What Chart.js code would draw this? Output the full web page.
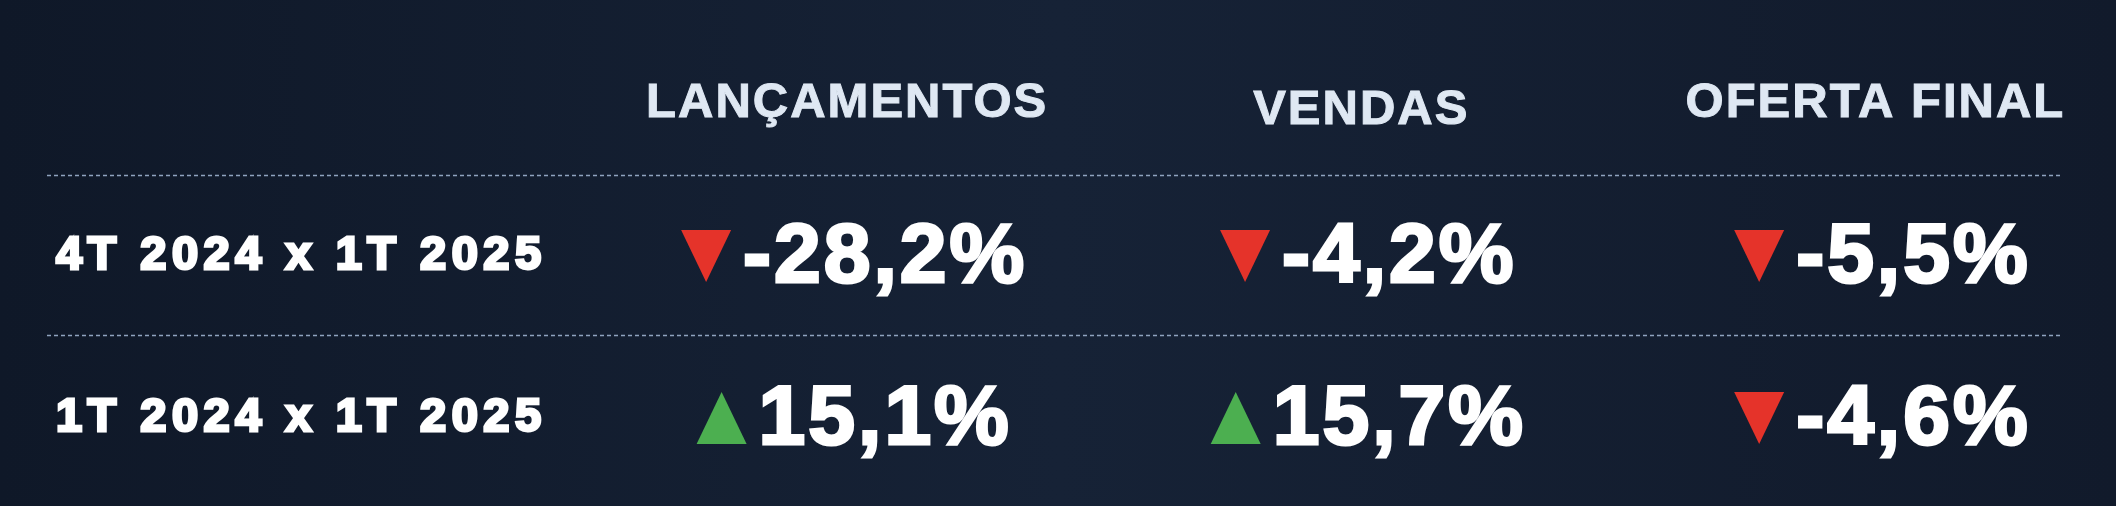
<!DOCTYPE html>
<html><head><meta charset="utf-8">
<script src="https://cdn.jsdelivr.net/npm/chart.js@4/dist/chart.umd.min.js"></script>
<style>html,body{margin:0;padding:0;background:#111a2a;}#w{width:2116px;height:506px;background:linear-gradient(90deg,#0f1828,#162236 50%,#111a2b);}</style>
</head><body><div id="w"><canvas id="c"></canvas></div>
<script>
const columns = ["LANÇAMENTOS", "VENDAS", "OFERTA FINAL"];
const rows = ["4T 2024 x 1T 2025", "1T 2024 x 1T 2025"];
const row1Values = [-28.2, -4.2, -5.5];
const row2Values = [15.1, 15.7, -4.6];
const allRows = [row1Values, row2Values];

const fmt = v => (v < 0 ? "-" : "") + Math.abs(v).toFixed(1).replace(".", ",") + "%";

const points = [];
allRows.forEach((vals, r) => vals.forEach((v, c) => points.push({x: c, y: r, v})));

const tablePlugin = {
  id: "table",
  afterDraw(chart) {
    const ctx = chart.ctx, xs = chart.scales.x, ys = chart.scales.y;
    ctx.save();
    ctx.textBaseline = "middle";
    ctx.fillStyle = "#dfe8f3"; ctx.strokeStyle = "#dfe8f3"; ctx.lineWidth = 1;
    ctx.font = "bold 49px 'Liberation Sans'";
    ctx.letterSpacing = "2px";
    ctx.textAlign = "center";
    const hy = [-0.94, -0.9, -0.94];
    columns.forEach((t, i) => {
      const px = xs.getPixelForValue(i) + 1, py = ys.getPixelForValue(hy[i]);
      ctx.fillText(t, px, py); ctx.strokeText(t, px, py);
    });
    ctx.letterSpacing = "0px";
    ctx.strokeStyle = "#8fa3bf"; ctx.lineWidth = 1.3; ctx.setLineDash([4, 3]);
    [-0.5, 0.49].forEach(y => {
      const py = Math.round(ys.getPixelForValue(y)) + 0.5;
      ctx.beginPath(); ctx.moveTo(47, py); ctx.lineTo(2063, py); ctx.stroke();
    });
    ctx.setLineDash([]);
    ctx.fillStyle = "#ffffff"; ctx.strokeStyle = "#ffffff"; ctx.lineWidth = 3;
    ctx.font = "bold 47px 'Liberation Sans'";
    ctx.letterSpacing = "5.5px";
    rows.forEach((t, r) => {
      const px = xs.getPixelForValue(-1.06), py = ys.getPixelForValue(r);
      ctx.fillText(t, px, py); ctx.strokeText(t, px, py);
    });
    ctx.letterSpacing = "3px";
    ctx.font = "bold 84px 'Liberation Sans'";
    ctx.textAlign = "left";
    points.forEach(p => {
      const txt = fmt(p.v);
      const tw = ctx.measureText(txt).width;
      const triW = 50, triH = 52, gap = 12;
      const total = triW + gap + tw;
      const cx = xs.getPixelForValue(p.x) + 8, cy = ys.getPixelForValue(p.y);
      const x0 = cx - total / 2;
      ctx.beginPath();
      if (p.v < 0) {
        ctx.fillStyle = "#e5332a";
        ctx.moveTo(x0, cy - triH / 2); ctx.lineTo(x0 + triW, cy - triH / 2); ctx.lineTo(x0 + triW / 2, cy + triH / 2);
      } else {
        ctx.fillStyle = "#4caf50";
        ctx.moveTo(x0, cy + triH / 2); ctx.lineTo(x0 + triW, cy + triH / 2); ctx.lineTo(x0 + triW / 2, cy - triH / 2);
      }
      ctx.closePath(); ctx.fill();
      ctx.fillStyle = "#ffffff"; ctx.strokeStyle = "#ffffff"; ctx.lineWidth = 3;
      ctx.fillText(txt, x0 + triW + gap, cy + 3);
      ctx.strokeText(txt, x0 + triW + gap, cy + 3);
    });
    ctx.restore();
  }
};

new Chart(document.getElementById("c"), {
  type: "scatter",
  data: {datasets: [{data: points, pointRadius: 0, pointHoverRadius: 0}]},
  options: {
    responsive: true, maintainAspectRatio: false, animation: false,
    layout: {padding: 0},
    plugins: {legend: {display: false}, tooltip: {enabled: false}},
    scales: {
      x: {type: "linear", display: false, min: -1.646, max: 2.47},
      y: {type: "linear", display: false, reverse: true, min: -1.58, max: 1.543}
    }
  },
  plugins: [tablePlugin]
});
</script></body></html>
